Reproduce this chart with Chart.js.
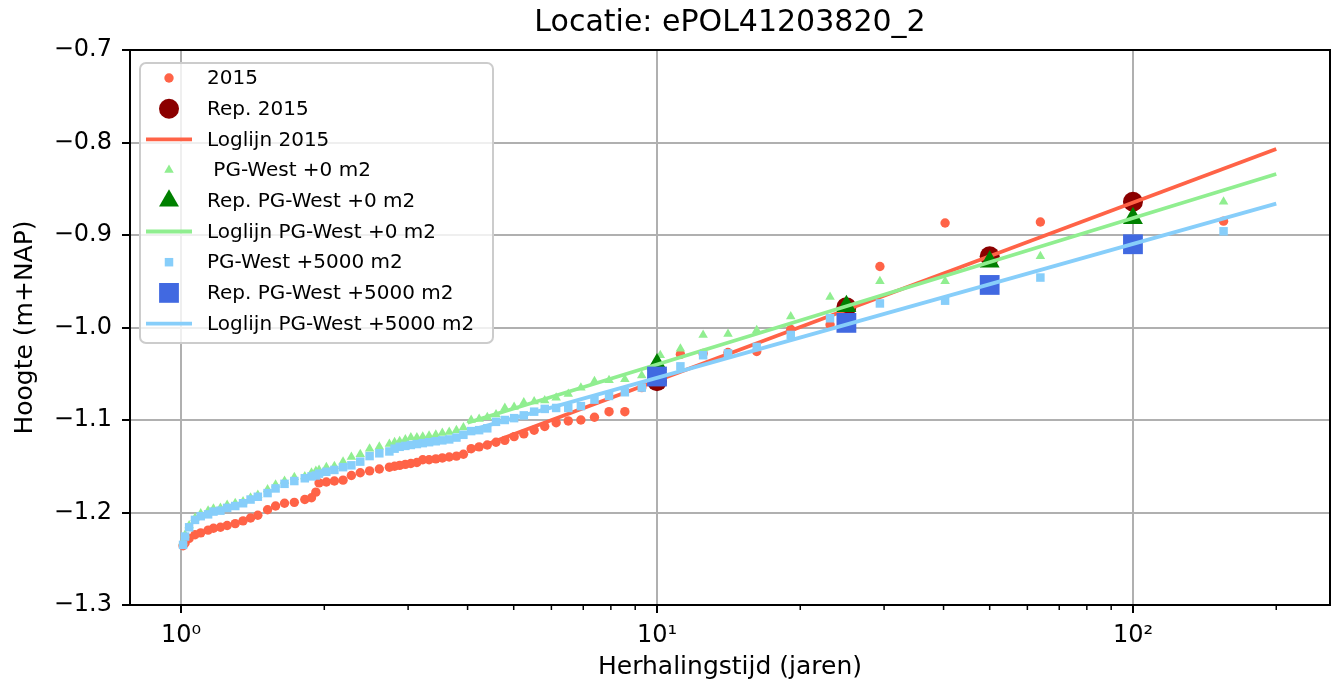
<!DOCTYPE html>
<html>
<head>
<meta charset="utf-8">
<script src="https://cdn.jsdelivr.net/npm/chart.js@4.4.0/dist/chart.umd.min.js"></script>
<style>
  html, body { margin: 0; padding: 0; background: #fff; }
</style>
</head>
<body>
<canvas id="chart" width="1333" height="689"></canvas>
<script>
// herhalingstijd (jaren) per rangnummer, gedeeld door alle drie reeksen
const herhalingstijd = [155, 63.9, 40.3, 29.4, 23.1, 19.1, 16.2, 14.1, 12.5, 11.2,
  10.16, 9.29, 8.56, 7.93, 7.39, 6.92, 6.51, 6.14, 5.81, 5.52,
  5.25, 5.01, 4.79, 4.59, 4.40, 4.23, 4.07, 3.92, 3.79, 3.66,
  3.54, 3.43, 3.32, 3.22, 3.13, 3.04, 2.96, 2.88, 2.81, 2.74,
  2.61, 2.49, 2.38, 2.28, 2.19, 2.10, 2.02, 1.95, 1.92, 1.88,
  1.82, 1.73, 1.65, 1.58, 1.52, 1.45, 1.40, 1.35, 1.30, 1.25,
  1.21, 1.17, 1.14, 1.10, 1.07, 1.04, 1.02, 1.01];

const hoogte2015 = [-0.885, -0.886, -0.887, -0.934, -0.997, -1.002, -1.026, -1.027, -1.028, -1.029,
  -1.058, -1.065, -1.091, -1.091, -1.097, -1.100, -1.101, -1.103, -1.107, -1.111,
  -1.115, -1.118, -1.122, -1.124, -1.127, -1.129, -1.131, -1.137, -1.139, -1.140,
  -1.141, -1.142, -1.143, -1.143, -1.146, -1.147, -1.148, -1.149, -1.150, -1.151,
  -1.153, -1.155, -1.157, -1.160, -1.165, -1.166, -1.167, -1.168, -1.178, -1.184,
  -1.186, -1.189, -1.190, -1.193, -1.197, -1.203, -1.206, -1.209, -1.212, -1.214,
  -1.216, -1.217, -1.219, -1.222, -1.224, -1.228, -1.233, -1.236];

const hoogtePG0 = [-0.864, -0.923, -0.950, -0.950, -0.967, -0.988, -1.003, -1.007, -1.008, -1.023,
  -1.030, -1.052, -1.056, -1.057, -1.058, -1.065, -1.072, -1.076, -1.079, -1.080,
  -1.081, -1.086, -1.087, -1.094, -1.097, -1.099, -1.100, -1.108, -1.111, -1.113,
  -1.114, -1.116, -1.117, -1.118, -1.119, -1.119, -1.121, -1.123, -1.124, -1.126,
  -1.129, -1.131, -1.137, -1.140, -1.145, -1.150, -1.151, -1.154, -1.155, -1.157,
  -1.161, -1.162, -1.166, -1.170, -1.175, -1.181, -1.184, -1.188, -1.190, -1.192,
  -1.195, -1.196, -1.198, -1.201, -1.206, -1.214, -1.224, -1.232];

const hoogtePG5000 = [-0.896, -0.946, -0.971, -0.974, -0.990, -1.008, -1.021, -1.028, -1.030, -1.042,
  -1.051, -1.065, -1.070, -1.074, -1.078, -1.085, -1.087, -1.087, -1.088, -1.091,
  -1.095, -1.098, -1.100, -1.102, -1.109, -1.111, -1.112, -1.116, -1.119, -1.121,
  -1.122, -1.123, -1.124, -1.125, -1.126, -1.127, -1.128, -1.129, -1.131, -1.134,
  -1.136, -1.139, -1.145, -1.149, -1.151, -1.154, -1.156, -1.158, -1.160, -1.161,
  -1.163, -1.166, -1.169, -1.174, -1.179, -1.183, -1.186, -1.190, -1.193, -1.195,
  -1.198, -1.199, -1.202, -1.204, -1.208, -1.216, -1.226, -1.235];

// representatieve waarden
const repT = [10, 25, 50, 100];
const rep2015 = [-1.058, -0.978, -0.923, -0.864];
const repPG0 = [-1.040, -0.977, -0.929, -0.882];
const repPG5000 = [-1.053, -0.995, -0.954, -0.910];

// loglijnen
const lijnT = [4, 200];
const lijn2015 = [-1.134, -0.807];
const lijnPG0 = [-1.103, -0.834];
const lijnPG5000 = [-1.112, -0.866];

const xTicks = [1, 2, 3, 4, 5, 6, 7, 8, 9, 10, 20, 30, 40, 50, 60, 70, 80, 90, 100, 200];
const majorTicks = { 1: '10\u2070', 10: '10\u00b9', 100: '10\u00b2' };

const pts = (xs, ys) => xs.map((x, i) => ({ x: x, y: ys[i] }));

function puntSet(label, xs, ys, kleur, stijl, r) {
    return { label, data: pts(xs, ys), pointStyle: stijl, pointRadius: r,
        pointBackgroundColor: kleur, pointBorderWidth: 0, backgroundColor: kleur,
        borderColor: kleur, showLine: false };
}
function lijnSet(label, ys, kleur) {
    return { label, data: pts(lijnT, ys), showLine: true, pointRadius: 0,
        borderColor: kleur, borderWidth: 3.8, backgroundColor: kleur, isLine: true };
}

const datasets = [
    puntSet('2015', herhalingstijd, hoogte2015, '#ff6347', 'circle', 4.7),
    puntSet('Rep. 2015', repT, rep2015, '#8b0000', 'circle', 10),
    lijnSet('Loglijn 2015', lijn2015, '#ff6347'),
    puntSet(' PG-West +0 m2', herhalingstijd, hoogtePG0, '#90ee90', 'triangle', 5.5),
    puntSet('Rep. PG-West +0 m2', repT, repPG0, '#008000', 'triangle', 11.5),
    lijnSet('Loglijn PG-West +0 m2', lijnPG0, '#90ee90'),
    puntSet('PG-West +5000 m2', herhalingstijd, hoogtePG5000, '#87cefa', 'rect', 6),
    puntSet('Rep. PG-West +5000 m2', repT, repPG5000, '#4169e1', 'rect', 14),
    lijnSet('Loglijn PG-West +5000 m2', lijnPG5000, '#87cefa')
];
datasets.forEach((d, i) => { d.order = datasets.length - i; });

// kader, kleine tickjes en legenda
const kaderPlugin = {
    id: 'kader',
    afterDraw(chart) {
        const ctx = chart.ctx;
        const a = chart.chartArea;
        const xs = chart.scales.x;
        ctx.save();
        ctx.strokeStyle = '#000';
        ctx.lineWidth = 1.5;
        xs.ticks.forEach(t => {
            if (majorTicks[t.value]) return;
            const px = xs.getPixelForValue(t.value);
            ctx.beginPath();
            ctx.moveTo(px, a.bottom);
            ctx.lineTo(px, a.bottom + 5);
            ctx.stroke();
        });
        ctx.lineWidth = 2;
        ctx.strokeRect(a.left, a.top, a.right - a.left, a.bottom - a.top);

        // legenda
        const lx = a.left + 10, ly = a.top + 13;
        ctx.beginPath();
        ctx.roundRect(lx, ly, 353, 280, 6);
        ctx.fillStyle = 'rgba(255,255,255,0.8)';
        ctx.fill();
        ctx.strokeStyle = '#cccccc';
        ctx.lineWidth = 2;
        ctx.stroke();
        ctx.font = '20px "DejaVu Sans"';
        ctx.textBaseline = 'middle';
        chart.data.datasets.forEach((d, i) => {
            const y = ly + 15 + i * 30.7;
            const mx = lx + 29;
            if (d.isLine) {
                ctx.strokeStyle = d.borderColor;
                ctx.lineWidth = d.borderWidth;
                ctx.beginPath();
                ctx.moveTo(lx + 6, y);
                ctx.lineTo(lx + 52, y);
                ctx.stroke();
            } else {
                ctx.fillStyle = d.pointBackgroundColor;
                Chart.helpers.drawPoint(ctx, { pointStyle: d.pointStyle, radius: d.pointRadius,
                    rotation: 0, borderWidth: 0 }, mx, y);
            }
            ctx.fillStyle = '#000';
            ctx.fillText(d.label, lx + 67, y + 1);
        });
        ctx.restore();
    }
};

Chart.defaults.font.family = '"DejaVu Sans", sans-serif';
Chart.defaults.color = '#000';

new Chart(document.getElementById('chart'), {
    type: 'scatter',
    data: { datasets },
    options: {
        responsive: false,
        animation: false,
        layout: { autoPadding: false, padding: { right: 3 } },
        plugins: {
            legend: { display: false },
            tooltip: { enabled: false },
            title: {
                display: true,
                text: 'Locatie: ePOL41203820_2',
                fullSize: false,
                font: { size: 30, weight: 'normal' },
                padding: { top: 5, bottom: 9 }
            }
        },
        scales: {
            x: {
                type: 'logarithmic',
                min: 0.7813,
                max: 259.4,
                afterBuildTicks: s => { s.ticks = xTicks.map(v => ({ value: v })); },
                afterFit: s => { s.height = 84; s.paddingLeft = 0; s.paddingRight = 0; },
                ticks: {
                    autoSkip: false, maxRotation: 0, padding: 8,
                    font: { size: 24 },
                    callback: v => majorTicks[v] || ''
                },
                grid: {
                    color: c => (c.tick && majorTicks[c.tick.value]) ? '#b0b0b0' : 'rgba(0,0,0,0)',
                    tickColor: c => (c.tick && majorTicks[c.tick.value]) ? '#000' : 'rgba(0,0,0,0)',
                    lineWidth: 2, tickLength: 8, tickWidth: 2
                },
                border: { display: false },
                title: {
                    display: true, text: 'Herhalingstijd (jaren)',
                    font: { size: 25 }, padding: { top: 0, bottom: 7 }
                }
            },
            y: {
                min: -1.3,
                max: -0.7,
                afterFit: s => { s.width = 130; s.paddingTop = 0; s.paddingBottom = 0; },
                ticks: {
                    stepSize: 0.1, padding: 10,
                    font: { size: 24 },
                    callback: v => (v < 0 ? '\u2212' : '') + Math.abs(v).toFixed(1)
                },
                grid: { color: '#b0b0b0', tickColor: '#000', lineWidth: 2, tickLength: 8, tickWidth: 2 },
                border: { display: false },
                title: {
                    display: true, text: 'Hoogte (m+NAP)',
                    font: { size: 25 }, padding: { top: 10, bottom: 0 }
                }
            }
        }
    },
    plugins: [kaderPlugin]
});
</script>
</body>
</html>
